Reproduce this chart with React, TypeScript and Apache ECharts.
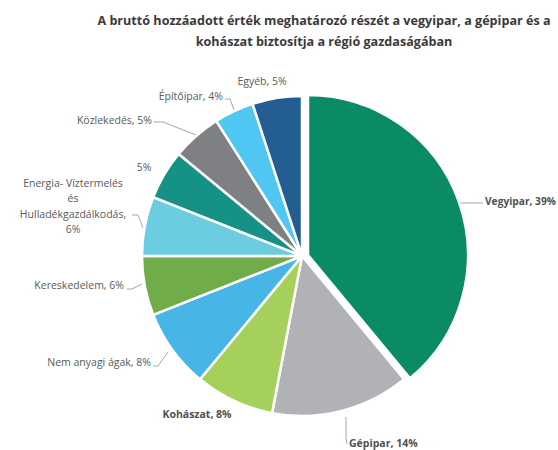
import React, { useEffect, useRef } from "react";
import * as echarts from "echarts";

const titleLines = [
  "A bruttó hozzáadott érték meghatározó részét a vegyipar, a gépipar és a",
  "kohászat biztosítja a régió gazdaságában",
];

const categories = [
  "Vegyipar",
  "Gépipar",
  "Kohászat",
  "Nem anyagi ágak",
  "Kereskedelem",
  "Energia- Víztermelés és Hulladékgazdálkodás",
  "",
  "Közlekedés",
  "Építőipar",
  "Egyéb",
];

const shares = [39, 14, 8, 8, 6, 6, 5, 5, 4, 5];

const labelTexts = [
  "Vegyipar, 39%",
  "Gépipar, 14%",
  "Kohászat, 8%",
  "Nem anyagi ágak, 8%",
  "Kereskedelem, 6%",
  "Energia- Víztermelés\nés\nHulladékgazdálkodás,\n6%",
  "5%",
  "Közlekedés, 5%",
  "Építőipar, 4%",
  "Egyéb, 5%",
];

const colors = [
  "#0b8a66",
  "#b1b2b6",
  "#a6d05c",
  "#47b5e6",
  "#70ac47",
  "#6ccde0",
  "#159185",
  "#7f8083",
  "#4fc7f2",
  "#225e92",
];

const boldLabels = [true, true, true, false, false, false, false, false, false, false];
// the exploded slice (Vegyipar)
const explodedIndex = 0;

type LP = { x: number; y: number; align: string; line: number[][] | null };
const labelPos: LP[] = [
  { x: 485, y: 201, align: "left", line: [[458, 203], [470, 203], [483, 203]] },
  { x: 349, y: 443, align: "left", line: [[346, 417], [346, 438], [347, 444]] },
  { x: 197, y: 414, align: "center", line: null },
  { x: 151, y: 362, align: "right", line: [[168, 352], [158, 366], [153, 366]] },
  { x: 124, y: 285, align: "right", line: [[142, 284], [132, 289], [127, 289]] },
  { x: 73, y: 206, align: "center", line: [[143, 228], [138, 215], [132, 215]] },
  { x: 144, y: 167, align: "center", line: null },
  { x: 152, y: 120, align: "right", line: [[196, 135], [163, 122], [154, 122]] },
  { x: 223, y: 96, align: "right", line: [[234, 110], [230, 99], [225, 99]] },
  { x: 262, y: 81, align: "center", line: null },
];

export default function App() {
  const ref = useRef<HTMLDivElement>(null);
  useEffect(() => {
    document.body.style.margin = "0";
    if (!ref.current) return;
    const chart = echarts.init(ref.current, null, { renderer: "svg" });

    const makeData = (visible: (i: number) => boolean) =>
      categories.map((name, i) => {
        const v = visible(i);
        return {
          name,
          value: shares[i],
          itemStyle: v
            ? { color: colors[i], borderColor: "#ffffff", borderWidth: 2.5 }
            : { color: "rgba(0,0,0,0)", borderWidth: 0 },
          label: {
            show: v,
            fontWeight: boldLabels[i] ? "bold" : "normal",
            color: boldLabels[i] ? "#505050" : "#595959",
            fontSize: i === explodedIndex ? 10.2 : 10.5,
          },
          labelLine: { show: v && labelPos[i].line !== null },
        };
      });

    const layoutFn = (p: any) => {
      const L = labelPos[p.dataIndex];
      const r: any = {
        x: L.x,
        y: L.y,
        align: L.align,
        verticalAlign: "middle",
      };
      if (L.line) r.labelLinePoints = L.line;
      return r;
    };

    const common = {
      type: "pie",
      radius: 160,
      startAngle: 90,
      clockwise: true,
      avoidLabelOverlap: false,
      silent: true,
      label: {
        position: "outside",
        fontFamily: "Open Sans",
        fontSize: 10.5,
        lineHeight: 15.5,
        overflow: "none",
        formatter: (p: any) => labelTexts[p.dataIndex],
      },
      labelLine: {
        lineStyle: { color: "#a6a6a6", width: 1 },
      },
      emphasis: { disabled: true },
      labelLayout: layoutFn,
    };

    chart.setOption({
      animation: false,
      backgroundColor: "#ffffff",
      title: {
        text: titleLines.join("\n"),
        left: 319,
        top: 5,
        textAlign: "center",
        textStyle: {
          fontFamily: "Open Sans",
          fontWeight: "bold",
          fontSize: 12.6,
          lineHeight: 21,
          color: "#3a3a3a",
        },
      },
      series: [
        {
          ...common,
          center: [302, 256],
          data: makeData((i) => i !== explodedIndex),
        },
        {
          ...common,
          center: [308, 255],
          data: makeData((i) => i === explodedIndex),
        },
      ],
    });
    return () => chart.dispose();
  }, []);
  return <div ref={ref} style={{ width: 558, height: 450 }} />;
}
